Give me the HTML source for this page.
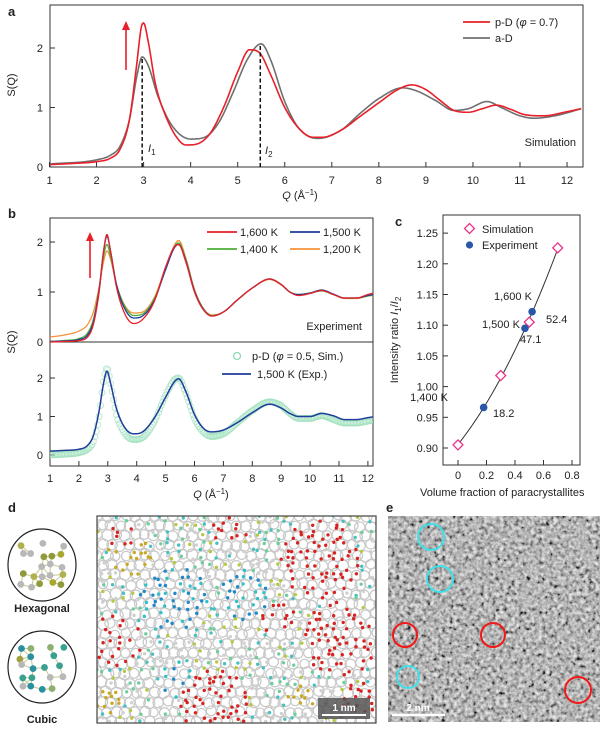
<!DOCTYPE html>
<html><head><meta charset="utf-8"><style>
html,body{margin:0;padding:0;background:#fff;}
svg{display:block;font-family:"Liberation Sans",Arial,sans-serif;}
text{fill:#222;}
</style></head><body>
<svg id="fig" width="600" height="729" viewBox="0 0 600 729" xmlns="http://www.w3.org/2000/svg">
<defs>
<filter id="hrtem" x="0" y="0" width="100%" height="100%">
<feTurbulence type="fractalNoise" baseFrequency="0.26" numOctaves="2" seed="7" result="n"/>
<feColorMatrix type="matrix" values="0.5 0.5 0 0 0  0.5 0.5 0 0 0  0.5 0.5 0 0 0  0 0 0 0 1"/>
<feComponentTransfer><feFuncR type="linear" slope="2.4" intercept="-0.68"/><feFuncG type="linear" slope="2.4" intercept="-0.68"/><feFuncB type="linear" slope="2.4" intercept="-0.68"/></feComponentTransfer>
</filter>
<clipPath id="clipA"><rect x="50" y="5" width="533" height="162"/></clipPath>
<clipPath id="clipB"><rect x="50" y="218" width="323" height="248"/></clipPath>
<clipPath id="clipD"><rect x="97" y="516" width="279" height="207"/></clipPath>
</defs>

<g>
<text x="8" y="16" font-weight="bold" font-size="13">a</text>
<rect x="50" y="5" width="533" height="162" fill="none" stroke="#333" stroke-width="1"/>
<g id="a-axes"></g>
<g id="a-series" clip-path="url(#clipA)"></g>
<text x="15" y="85" font-size="11" transform="rotate(-90 15 85)" text-anchor="middle">S(Q)</text>
<text x="300" y="199" font-size="11" text-anchor="middle"><tspan font-style="italic">Q</tspan> (Å<tspan dy="-4" font-size="8">−1</tspan><tspan dy="4">)</tspan></text>
<line x1="126" y1="70" x2="126" y2="28" stroke="#e8202a" stroke-width="1.6"/>
<polygon points="122,30 130,30 126,21" fill="#e8202a"/>
<line x1="463" y1="22" x2="490" y2="22" stroke="#e8202a" stroke-width="1.8"/>
<text x="495" y="26" font-size="11">p-D (<tspan font-style="italic">φ</tspan> = 0.7)</text>
<line x1="463" y1="38" x2="490" y2="38" stroke="#707070" stroke-width="1.8"/>
<text x="495" y="42" font-size="11">a-D</text>
<text x="576" y="146" font-size="11" text-anchor="end">Simulation</text>
<text x="148" y="152" font-size="11" font-style="italic">I<tspan dy="3" font-size="8" font-style="normal">1</tspan></text>
<text x="265" y="154" font-size="11" font-style="italic">I<tspan dy="3" font-size="8" font-style="normal">2</tspan></text>
</g>

<g>
<text x="8" y="218" font-weight="bold" font-size="13">b</text>
<rect x="50" y="218" width="323" height="248" fill="none" stroke="#333" stroke-width="1"/>
<line x1="50" y1="342" x2="373" y2="342" stroke="#333" stroke-width="1"/>
<g id="b-axes"></g>
<g id="b-series" clip-path="url(#clipB)"></g>
<text x="15" y="342" font-size="11" transform="rotate(-90 15 342)" text-anchor="middle">S(Q)</text>
<text x="211" y="498" font-size="11" text-anchor="middle"><tspan font-style="italic">Q</tspan> (Å<tspan dy="-4" font-size="8">−1</tspan><tspan dy="4">)</tspan></text>
<line x1="90" y1="278" x2="90" y2="239" stroke="#e8202a" stroke-width="1.6"/>
<polygon points="86,241 94,241 90,232" fill="#e8202a"/>
<line x1="207" y1="232" x2="237" y2="232" stroke="#e8202a" stroke-width="1.8"/>
<text x="240" y="236" font-size="11">1,600 K</text>
<line x1="290" y1="232" x2="320" y2="232" stroke="#1f3d9a" stroke-width="1.8"/>
<text x="323" y="236" font-size="11">1,500 K</text>
<line x1="207" y1="249" x2="237" y2="249" stroke="#4caf3a" stroke-width="1.8"/>
<text x="240" y="253" font-size="11">1,400 K</text>
<line x1="290" y1="249" x2="320" y2="249" stroke="#f5923a" stroke-width="1.8"/>
<text x="323" y="253" font-size="11">1,200 K</text>
<text x="362" y="330" font-size="11" text-anchor="end">Experiment</text>
<circle cx="237" cy="356" r="3.5" fill="none" stroke="#8fdcb0" stroke-width="1.3"/>
<text x="252" y="360" font-size="11">p-D (<tspan font-style="italic">φ</tspan> = 0.5, Sim.)</text>
<line x1="222" y1="374" x2="251" y2="374" stroke="#1f3d9a" stroke-width="1.8"/>
<text x="257" y="378" font-size="11">1,500 K (Exp.)</text>
</g>

<g>
<text x="395" y="226" font-weight="bold" font-size="13">c</text>
<rect x="443" y="215" width="137" height="250" fill="none" stroke="#333" stroke-width="1"/>
<g id="c-axes"></g>
<g id="c-series"></g>
<text x="398" y="340" font-size="11" transform="rotate(-90 398 340)" text-anchor="middle">Intensity ratio <tspan font-style="italic">I</tspan><tspan font-size="8" dy="3">1</tspan><tspan dy="-3">/</tspan><tspan font-style="italic">I</tspan><tspan font-size="8" dy="3">2</tspan></text>
<text x="420" y="496" font-size="11">Volume fraction of paracrystallites</text>
<rect x="466" y="225" width="7" height="7" fill="none" stroke="#e8338a" stroke-width="1.3" transform="rotate(45 469.5 228.5)"/>
<text x="482" y="233" font-size="11">Simulation</text>
<circle cx="469.5" cy="245" r="3.6" fill="#2a56a8"/>
<text x="482" y="249" font-size="11">Experiment</text>
<text x="494" y="300" font-size="11">1,600 K</text>
<text x="546" y="323" font-size="11">52.4</text>
<text x="482" y="328" font-size="11">1,500 K</text>
<text x="520" y="343" font-size="11">47.1</text>
<text x="448" y="401" font-size="11" text-anchor="end">1,400 K</text>
<text x="493" y="417" font-size="11">18.2</text>
</g>

<g>
<text x="8" y="512" font-weight="bold" font-size="13">d</text>
<g id="hexCluster"></g>
<g id="cubCluster"></g>
<text x="42" y="612" font-size="11" font-weight="bold" text-anchor="middle">Hexagonal</text>
<text x="42" y="723" font-size="11" font-weight="bold" text-anchor="middle">Cubic</text>
<rect x="97" y="516" width="279" height="207" fill="#fff"/>
<g id="dnet" clip-path="url(#clipD)"></g>
<rect x="97" y="516" width="279" height="207" fill="none" stroke="#444" stroke-width="1.2"/>
<rect x="318" y="698" width="52" height="21" fill="#555" opacity="0.85"/>
<line x1="322" y1="715" x2="366" y2="715" stroke="#fff" stroke-width="2"/>
<text x="344" y="711" font-size="10" style="fill:#fff" font-weight="bold" text-anchor="middle">1 nm</text>
</g>

<g>
<text x="386" y="512" font-weight="bold" font-size="13">e</text>
<rect x="388" y="516" width="212" height="206" fill="#8a8a8a"/>
<rect x="388" y="516" width="212" height="206" filter="url(#hrtem)" opacity="0.8"/>
<circle cx="431" cy="537" r="13" fill="none" stroke="#40e0e8" stroke-width="2"/>
<circle cx="440" cy="579" r="13" fill="none" stroke="#40e0e8" stroke-width="2"/>
<circle cx="408" cy="677" r="11" fill="none" stroke="#40e0e8" stroke-width="2"/>
<circle cx="405" cy="635" r="12" fill="none" stroke="#f01818" stroke-width="2"/>
<circle cx="493" cy="635" r="12" fill="none" stroke="#f01818" stroke-width="2"/>
<circle cx="578" cy="690" r="13" fill="none" stroke="#f01818" stroke-width="2"/>
<line x1="392" y1="715" x2="445" y2="715" stroke="#fff" stroke-width="2.5"/>
<text x="418" y="711" font-size="10" style="fill:#fff" font-weight="bold" text-anchor="middle">2 nm</text>
</g>
</svg>
<script>
const aQ = [1,1.5,2,2.3,2.5,2.7,2.85,2.95,3.0,3.1,3.25,3.5,3.75,3.9,4.1,4.4,4.7,5.0,5.25,5.45,5.7,6.0,6.3,6.6,6.8,7.2,7.6,8.0,8.4,8.7,9.0,9.3,9.6,9.9,10.2,10.5,10.8,11.1,11.5,12.0,12.3];
const aPD = [0.04,0.06,0.09,0.15,0.3,0.8,1.7,2.35,2.42,2.1,1.4,0.8,0.45,0.37,0.38,0.55,1.0,1.6,1.97,1.93,1.55,1.0,0.65,0.5,0.5,0.62,0.85,1.08,1.3,1.38,1.3,1.12,0.95,0.92,0.98,1.04,0.97,0.88,0.86,0.93,0.98];
const aQ2 = [1,2,2.3,2.5,2.7,2.85,2.97,3.1,3.3,3.6,4.0,4.3,4.6,4.9,5.2,5.5,5.7,6.0,6.3,6.7,7.2,7.6,8.0,8.5,8.8,9.2,9.6,9.9,10.3,10.6,11.0,11.3,11.8,12.3];
const aAD = [0.05,0.12,0.2,0.35,0.8,1.5,1.85,1.7,1.2,0.7,0.47,0.5,0.75,1.25,1.8,2.07,1.8,1.1,0.65,0.48,0.62,0.9,1.15,1.33,1.28,1.12,0.95,0.98,1.1,1.0,0.86,0.82,0.87,0.98];
const aXTicks = [1,2,3,4,5,6,7,8,9,10,11,12];
const aYTicks = [0,1,2];
const dashQ = [2.97,5.48];
const dashS = [1.85,2.07];

const bQ = [1,1.5,2,2.3,2.5,2.7,2.85,2.97,3.1,3.3,3.6,3.9,4.2,4.6,5.0,5.3,5.45,5.7,6.0,6.3,6.6,7.0,7.5,8.0,8.6,9.0,9.3,9.6,10.0,10.4,10.8,11.2,11.6,12.0,12.3];
const b1600 = [0.0,0.01,0.03,0.1,0.35,1.0,1.8,2.15,1.8,1.1,0.55,0.37,0.45,0.8,1.5,1.9,1.95,1.6,1.0,0.65,0.52,0.6,0.85,1.08,1.26,1.15,1.0,0.93,0.97,1.03,0.95,0.88,0.88,0.95,0.99];
const b1500 = [0.01,0.02,0.05,0.14,0.4,1.05,1.8,2.12,1.8,1.15,0.65,0.48,0.52,0.82,1.45,1.88,1.95,1.62,1.02,0.66,0.52,0.6,0.85,1.08,1.26,1.15,1.0,0.95,0.98,1.04,0.96,0.88,0.88,0.93,0.96];
const b1400 = [0.01,0.03,0.07,0.18,0.45,1.05,1.7,1.95,1.7,1.15,0.7,0.53,0.56,0.85,1.45,1.9,1.98,1.65,1.03,0.67,0.53,0.6,0.85,1.08,1.26,1.15,1.0,0.95,0.98,1.02,0.95,0.88,0.88,0.92,0.95];
const b1200 = [0.1,0.14,0.22,0.35,0.6,1.1,1.6,1.82,1.65,1.15,0.72,0.58,0.6,0.88,1.48,1.93,2.03,1.68,1.05,0.68,0.54,0.6,0.85,1.08,1.25,1.14,1.0,0.95,0.98,1.03,0.95,0.87,0.87,0.92,0.94];
const bExp1500 = [0.1,0.12,0.15,0.25,0.5,1.15,1.85,2.18,1.85,1.2,0.7,0.55,0.6,0.95,1.5,1.9,1.98,1.65,1.05,0.7,0.6,0.65,0.85,1.1,1.32,1.22,1.08,1.0,1.0,1.08,1.02,0.92,0.92,0.97,1.0];
const bSimPD = [0.0,0.02,0.06,0.15,0.35,1.0,1.9,2.25,1.85,1.05,0.55,0.4,0.45,0.85,1.55,1.95,2.0,1.6,0.95,0.6,0.48,0.55,0.85,1.15,1.38,1.28,1.08,0.95,0.95,1.02,0.92,0.83,0.83,0.88,0.92];
const bXTicks = [1,2,3,4,5,6,7,8,9,10,11,12];
const bYTicks = [0,1,2];

const cSimX = [0,0.3,0.5,0.7];
const cSimY = [0.905,1.018,1.105,1.226];
const cExpX = [0.18,0.47,0.52];
const cExpY = [0.966,1.095,1.122];
const cXTicks = [0,0.2,0.4,0.6,0.8];
const cXLabels = ['0','0.2','0.4','0.6','0.8'];
const cYTicks = [0.90,0.95,1.00,1.05,1.10,1.15,1.20,1.25];
const cYLabels = ['0.90','0.95','1.00','1.05','1.10','1.15','1.20','1.25'];

const NS='http://www.w3.org/2000/svg';
function mk(tag, attrs, parent){const e=document.createElementNS(NS,tag);for(const k in attrs)e.setAttribute(k,attrs[k]);parent.appendChild(e);return e;}
// monotone cubic (Fritsch-Carlson)
function mono(xs,ys){
  const n=xs.length,d=[],m=new Array(n);
  for(let i=0;i<n-1;i++)d.push((ys[i+1]-ys[i])/(xs[i+1]-xs[i]));
  m[0]=d[0];m[n-1]=d[n-2];
  for(let i=1;i<n-1;i++){ if(d[i-1]*d[i]<=0) m[i]=0; else { m[i]=(d[i-1]+d[i])/2; } }
  for(let i=0;i<n-1;i++){ if(d[i]===0){m[i]=0;m[i+1]=0;continue;} const a=m[i]/d[i],b=m[i+1]/d[i],s=a*a+b*b; if(s>9){const t=3/Math.sqrt(s);m[i]=t*a*d[i];m[i+1]=t*b*d[i];} }
  return function(x){
    let i=0; while(i<n-2&&x>xs[i+1])i++;
    const h=xs[i+1]-xs[i],t=Math.max(0,Math.min(1,(x-xs[i])/h));
    const t2=t*t,t3=t2*t;
    return (2*t3-3*t2+1)*ys[i]+(t3-2*t2+t)*h*m[i]+(-2*t3+3*t2)*ys[i+1]+(t3-t2)*h*m[i+1];
  };
}
function smoothPath(xs,ys,sx,sy,step){
  const f=mono(xs,ys);let d='';
  for(let x=xs[0];x<=xs[xs.length-1]+1e-9;x+=step){d+=(d?'L':'M')+sx(x).toFixed(2)+','+sy(f(x)).toFixed(2);}
  return d;
}

// panel a
const axA=document.getElementById('a-axes'), sA=document.getElementById('a-series');
const ax=q=>49.5+(q-1)*47.05, ay=s=>167-s*59.5;
aXTicks.forEach(t=>{
  const l=mk('line',{x1:ax(t),y1:167,x2:ax(t),y2:162,stroke:'#333'},axA);
  
  
  const tx=mk('text',{x:ax(t),y:184,'font-size':11,'text-anchor':'middle'},axA);tx.textContent=t;
  
  
});
aYTicks.forEach(t=>{
  const l=mk('line',{x1:50,y1:ay(t),x2:55,y2:ay(t),stroke:'#333'},axA);
  
  
  const tx=mk('text',{x:43,y:ay(t)+4,'font-size':11,'text-anchor':'end'},axA);tx.textContent=t;
  
  
});
let p=mk('path',{d:smoothPath(aQ2,aAD,ax,ay,0.02),fill:'none',stroke:'#707070','stroke-width':1.6},sA);


p=mk('path',{d:smoothPath(aQ,aPD,ax,ay,0.02),fill:'none',stroke:'#e8202a','stroke-width':1.6},sA);


dashQ.forEach((q,i)=>{
  const l=mk('line',{x1:ax(q),y1:167,x2:ax(q),y2:ay(dashS[i]),stroke:'#111','stroke-width':1.5,'stroke-dasharray':'4,2.5'},sA);
  
  
});

// panel b
const axB=document.getElementById('b-axes'), sB=document.getElementById('b-series');
const bx=q=>50+(q-1)*28.9, by1=s=>Math.min(342-s*50,342), by2=s=>455-s*38.5;
bXTicks.forEach(t=>{
  const l=mk('line',{x1:bx(t),y1:466,x2:bx(t),y2:461,stroke:'#333'},axB);
  
  
  const tx=mk('text',{x:bx(t),y:482,'font-size':11,'text-anchor':'middle'},axB);tx.textContent=t;
  
  
});
bYTicks.forEach(t=>{
  const l=mk('line',{x1:50,y1:342-t*50,x2:55,y2:342-t*50,stroke:'#333'},axB);
  
  
  let tx=mk('text',{x:43,y:342-t*50+4,'font-size':11,'text-anchor':'end'},axB);tx.textContent=t;
  
  
  const l2=mk('line',{x1:50,y1:by2(t),x2:55,y2:by2(t),stroke:'#333'},axB);
  
  
  tx=mk('text',{x:43,y:by2(t)+4,'font-size':11,'text-anchor':'end'},axB);tx.textContent=t;
  
  
});
[[b1200,'#f5923a','series-1200k'],[b1400,'#4caf3a','series-1400k'],[b1500,'#1f3d9a','series-1500k'],[b1600,'#e8202a','series-1600k']].forEach(([arr,col,name])=>{
  const pp=mk('path',{d:smoothPath(bQ,arr,bx,by1,0.02),fill:'none',stroke:col,'stroke-width':1.3},sB);
  
  
});
const simF=mono(bQ,bSimPD);
for(let q=1;q<=12.3;q+=0.05){
  const c=mk('circle',{cx:bx(q),cy:by2(simF(q)),r:3,fill:'none',stroke:'#9fe0bc','stroke-width':0.9,opacity:0.75},sB);
  
  
}
p=mk('path',{d:smoothPath(bQ,bExp1500,bx,by2,0.02),fill:'none',stroke:'#1f3d9a','stroke-width':1.5},sB);



// panel c
const axC=document.getElementById('c-axes'), sC=document.getElementById('c-series');
const cx=v=>458+v*142.5, cy=v=>448-(v-0.9)*614;
cXTicks.forEach((t,i)=>{
  const l=mk('line',{x1:cx(t),y1:465,x2:cx(t),y2:460,stroke:'#333'},axC);
  
  
  const tx=mk('text',{x:cx(t),y:479,'font-size':11,'text-anchor':'middle'},axC);tx.textContent=cXLabels[i];
  
  
});
cYTicks.forEach((t,i)=>{
  const l=mk('line',{x1:443,y1:cy(t),x2:448,y2:cy(t),stroke:'#333'},axC);
  
  
  const tx=mk('text',{x:438,y:cy(t)+4,'font-size':11,'text-anchor':'end'},axC);tx.textContent=cYLabels[i];
  
  
});
// quadratic least-squares fit through simulation points
(function(){
  let S=[0,0,0,0,0],T=[0,0,0];
  cSimX.forEach((x,i)=>{const y=cSimY[i];for(let k=0;k<5;k++)S[k]+=Math.pow(x,k);for(let k=0;k<3;k++)T[k]+=y*Math.pow(x,k);});
  const A=[[S[0],S[1],S[2],T[0]],[S[1],S[2],S[3],T[1]],[S[2],S[3],S[4],T[2]]];
  for(let i=0;i<3;i++){for(let j=i+1;j<3;j++){const f=A[j][i]/A[i][i];for(let k=i;k<4;k++)A[j][k]-=f*A[i][k];}}
  const c=[0,0,0];for(let i=2;i>=0;i--){let s=A[i][3];for(let k=i+1;k<3;k++)s-=A[i][k]*c[k];c[i]=s/A[i][i];}
  let d='';const x0=cSimX[0],x1=cSimX[cSimX.length-1];
  for(let x=x0;x<=x1+1e-9;x+=0.01){d+=(d?'L':'M')+cx(x).toFixed(2)+','+cy(c[0]+c[1]*x+c[2]*x*x).toFixed(2);}
  const pth=mk('path',{d:d,fill:'none',stroke:'#333','stroke-width':1},sC);
  
  
})();
cSimX.forEach((v,i)=>{
  const x=cx(v),y=cy(cSimY[i]);
  const r=mk('rect',{x:x-3.5,y:y-3.5,width:7,height:7,fill:'#fff',stroke:'#e8338a','stroke-width':1.3,transform:`rotate(45 ${x} ${y})`},sC);
  
  
});
cExpX.forEach((v,i)=>{
  const c=mk('circle',{cx:cx(v),cy:cy(cExpY[i]),r:3.8,fill:'#2a56a8'},sC);
  
  
});

// panel d clusters
let seed=12345;function rnd(){seed=(seed*1103515245+12345)%2147483648;return seed/2147483648;}
function cluster(gid,cxm,cym,palette){
  const g=document.getElementById(gid);
  const ci=mk('ellipse',{cx:cxm,cy:cym,rx:34,ry:36,fill:'#fff',stroke:'#222','stroke-width':1.2},g);
  
  
  const pts=[];
  for(let j=0;j<5;j++)for(let i=0;i<5;i++){if(rnd()<0.8)pts.push([cxm-20+i*10+(rnd()-0.5)*5,cym-20+j*10+(rnd()-0.5)*5]);}
  pts.forEach((p1,i)=>pts.forEach((p2,j)=>{if(j>i&&Math.hypot(p1[0]-p2[0],p1[1]-p2[1])<13){
    const l=mk('line',{x1:p1[0],y1:p1[1],x2:p2[0],y2:p2[1],stroke:'#c8c890','stroke-width':1},g);
    
    }}));
  pts.forEach(p1=>{
    const c=mk('circle',{cx:p1[0],cy:p1[1],r:3.4,fill:palette[Math.floor(rnd()*palette.length)]},g);
    
    });
}
cluster('hexCluster',42,565,['#a8a830','#b0b050','#b8b8b8','#8f9a3a','#b8b8b8']);
cluster('cubCluster',42,667,['#3aa090','#2a8fa0','#8fb070','#b8b8b8','#a0a040']);

// panel d network
const net=document.getElementById('dnet');
const reds=[[320,560,40],[340,640,38],[215,705,35],[115,640,28],[230,525,20],[360,700,18],[120,535,14],[280,620,18]];
const blues=[[175,600,35],[180,680,20],[245,595,25]];
const yell=[[130,555,22],[110,700,15],[300,700,15]];
function colorAt(x,y){
  for(const [a,b,r] of reds) if(Math.hypot(x-a,y-b)<r) return '#d8221f';
  for(const [a,b,r] of blues) if(Math.hypot(x-a,y-b)<r) return rnd()<0.5?'#1e88c8':'#34c0c8';
  for(const [a,b,r] of yell) if(Math.hypot(x-a,y-b)<r) return '#c8a820';
  const v=rnd(); return v<0.45?'#d0d0d0':v<0.65?'#6ccf9a':v<0.82?'#b8c840':'#48c0c0';
}
for(let j=0;j<22;j++)for(let i=0;i<30;i++){
  const x=97+i*9.6+(j%2)*4.8+(rnd()-0.5)*3, y=516+j*9.8+(rnd()-0.5)*3;
  const r=mk('circle',{cx:x,cy:y,r:4.6+rnd()*1.2,fill:'none',stroke:'#c8c8c8','stroke-width':1.2},net);
  
  
}
for(let j=0;j<30;j++)for(let i=0;i<40;i++){
  if(rnd()<0.35)continue;
  const x=97+i*7+(rnd()-0.5)*5, y=516+j*7+(rnd()-0.5)*5;
  const c=mk('circle',{cx:x,cy:y,r:1.7,fill:colorAt(x,y)},net);
  
  
}
</script>
</body></html>
